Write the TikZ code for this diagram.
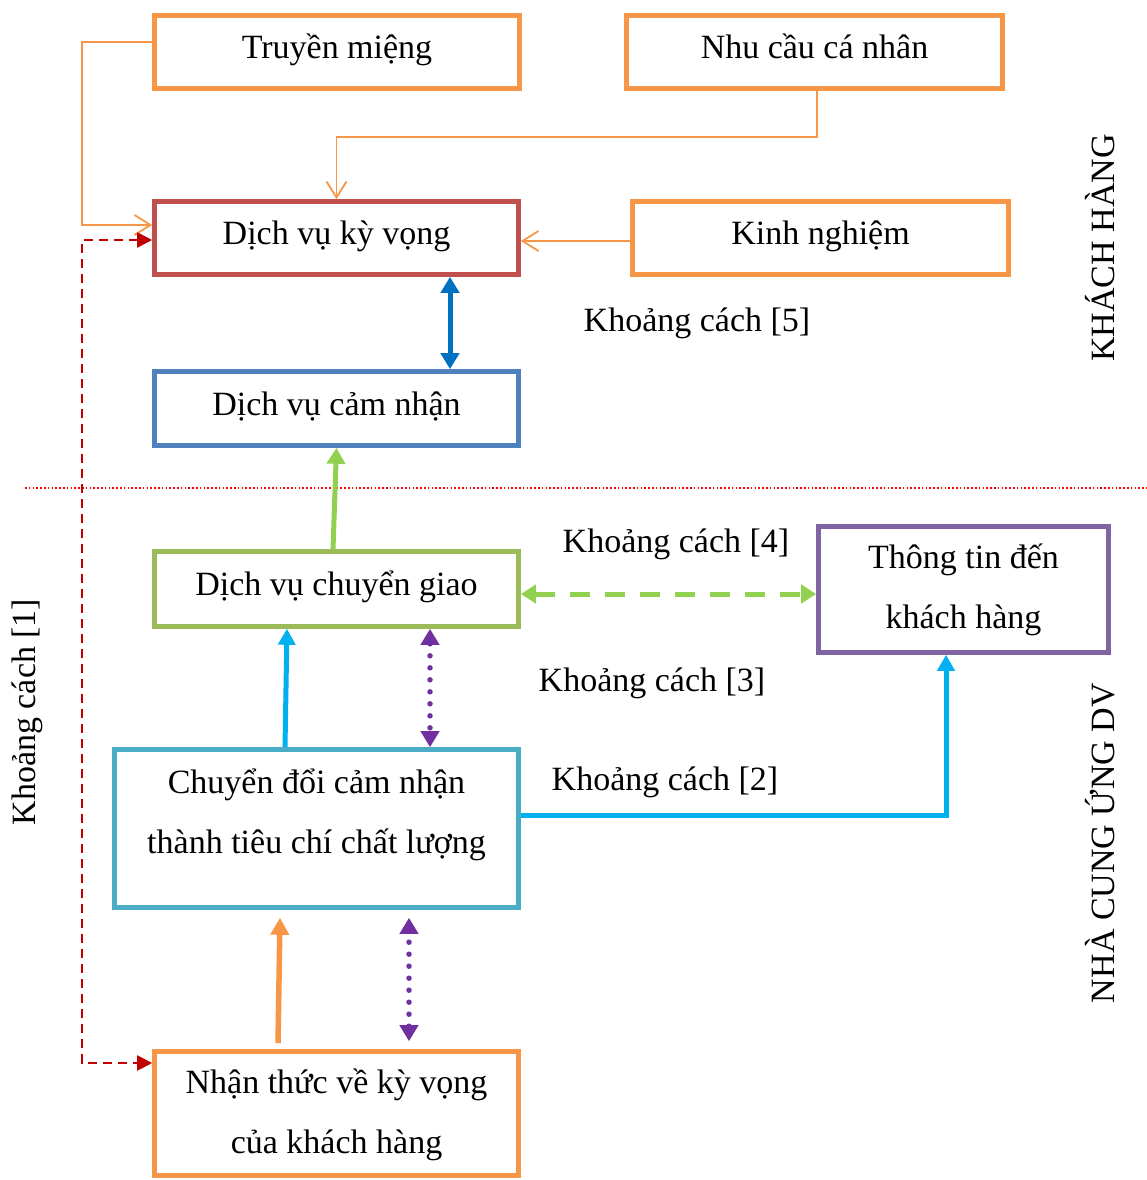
\documentclass[tikz,border=0pt]{standalone}
\usepackage{fontspec}
\setmainfont{Liberation Serif}
\usetikzlibrary{arrows.meta}
\definecolor{cOrange}{HTML}{F79646}
\definecolor{cRed}{HTML}{C0504D}
\definecolor{cBlue}{HTML}{4F81BD}
\definecolor{cGreen}{HTML}{9BBB59}
\definecolor{cPurple}{HTML}{8064A2}
\definecolor{cTeal}{HTML}{4BACC6}
\definecolor{aBlue}{HTML}{0070C0}
\definecolor{aLime}{HTML}{92D050}
\definecolor{aViolet}{HTML}{7030A0}
\definecolor{aCyan}{HTML}{00B0F0}
\definecolor{aDarkRed}{HTML}{C00000}
% two centred lines, baseline on the first line
\newcommand\twoline[2]{\begin{tabular}[t]{@{}c@{}}#1\\#2\end{tabular}}
\begin{document}
\begin{tikzpicture}[x=1pt,y=-1pt,
  txt/.style={font=\fontsize{34}{60}\selectfont, text=black, inner sep=0pt},
  box/.style={txt, draw=#1, line width=4.6pt},
  onebox/.style={box=#1, text height=23pt, text depth=10pt},
  thinarrow/.style={draw=cOrange, line width=1.8pt, -{Straight Barb[length=16pt,width=20pt,line width=1.8pt]}},
  gapdash/.style={draw=aDarkRed, line width=2pt, dash pattern=on 9pt off 6pt, {Triangle[length=15pt,width=15pt]}-{Triangle[length=15pt,width=15pt]}},
  dotted gap/.style={draw=aViolet, line width=5.5pt, line cap=round, dash pattern=on 0pt off 12pt, {Triangle[length=16pt,width=18pt]}-{Triangle[length=16pt,width=18pt]}}
]
\useasboundingbox (0,0) rectangle (1147,1180);

% boxes
\node[onebox=cOrange, minimum width=365pt, minimum height=73pt] (tm) at (337,52) {Truyền miệng};
\node[onebox=cOrange, minimum width=376pt, minimum height=73pt] (nc) at (814.5,52) {Nhu cầu cá nhân};
\node[onebox=cRed, minimum width=364pt, minimum height=73pt] (dk) at (336.5,238) {Dịch vụ kỳ vọng};
\node[onebox=cOrange, minimum width=376pt, minimum height=73pt] (kn) at (820.5,238) {Kinh nghiệm};
\node[onebox=cBlue, minimum width=364pt, minimum height=74pt] (dc) at (336.5,408.5) {Dịch vụ cảm nhận};
\node[onebox=cGreen, minimum width=364pt, minimum height=75pt] (dg) at (336.5,589) {Dịch vụ chuyển giao};
\node[box=cPurple, minimum width=290pt, minimum height=126pt, text height=20pt, text depth=63pt] (tt) at (963.5,589.5)
  {\twoline{Thông tin đến}{khách hàng}};
\node[box=cTeal, minimum width=404pt, minimum height=158pt, text height=20pt, text depth=91pt] (cd) at (316.5,828.5)
  {\twoline{Chuyển đổi cảm nhận}{thành tiêu chí chất lượng}};
\node[box=cOrange, minimum width=364pt, minimum height=124pt, text height=20pt, text depth=61pt] (nt) at (336.5,1113.5)
  {\twoline{Nhận thức về kỳ vọng}{của khách hàng}};

% gap labels
\node[txt] (g5) at (697,323) {Khoảng cách [5]};
\node[txt] (g4) at (676,544) {Khoảng cách [4]};
\node[txt] (g3) at (652,683) {Khoảng cách [3]};
\node[txt] (g2) at (665,782) {Khoảng cách [2]};
\node[txt, rotate=90] (g1) at (27,712) {Khoảng cách [1]};
\node[txt, rotate=90] (kh) at (1100,248) {KHÁCH HÀNG};
\node[txt, rotate=90] (ncu) at (1100,843) {NHÀ CUNG ỨNG DV};

% customer / provider separator
\coordinate (sepL) at (25,488);
\coordinate (sepR) at (1147,488);
\draw[red, line width=1.6pt, dash pattern=on 1.6pt off 2.2pt] (sepL) -- (sepR);

% influences on expected service
\draw[thinarrow] ([yshift=10pt]tm.west) -- ++(-70,0) |- ([yshift=13pt]dk.west);
\draw[thinarrow] ([xshift=2.5pt]nc.south) -- ++(0,46) -| (dk.north);
\draw[thinarrow] ([yshift=-3pt]kn.west) -- ([yshift=-3pt]dk.east);

% gap 5
\draw[draw=aBlue, line width=5pt, {Triangle[length=16pt,width=18pt]}-{Triangle[length=16pt,width=18pt]}]
  ([xshift=113.5pt]dk.south) -- ([xshift=113.5pt]dc.north);

% delivered -> perceived
\draw[draw=aLime, line width=5pt, -{Triangle[length=16pt,width=18pt]}]
  ([xshift=-3.5pt]dg.north) -- (dc.south);

% gap 4
\draw[draw=aLime, line width=5pt, dash pattern=on 20pt off 15pt, {Triangle[length=15pt,width=18pt]}-{Triangle[length=15pt,width=18pt]}]
  ([yshift=-5pt]dg.east) -- ([yshift=-4.5pt]tt.west);

% gap 3
\draw[dotted gap] ([xshift=93.5pt]dg.south) -- ([xshift=113.5pt]cd.north);

% specifications -> delivery
\draw[draw=aCyan, line width=5pt, -{Triangle[length=16pt,width=17pt]}]
  ([xshift=-31.5pt]cd.north) -- ([xshift=-49.5pt]dg.south);

% gap 2
\draw[draw=aCyan, line width=5pt, -{Triangle[length=16pt,width=17pt]}]
  ([yshift=13.5pt]cd.east) -| ([xshift=-17.5pt]tt.south);

% perception -> specifications
\draw[draw=cOrange, line width=5.5pt, -{Triangle[length=17pt,width=18pt]}]
  ([xshift=-58.5pt,yshift=6pt]nt.north) -- ([xshift=-36.5pt,yshift=-8pt]cd.south);

% gap 2 (dotted)
\draw[dotted gap] ([xshift=72.5pt,yshift=8pt]nt.north) -- ([xshift=92.5pt,yshift=-8pt]cd.south);

% gap 1
\coordinate (l1) at (82,650);
\draw[gapdash] ([yshift=-2pt]dk.west) -| (l1) |- ([yshift=50.5pt]nt.west);
\end{tikzpicture}
\end{document}
